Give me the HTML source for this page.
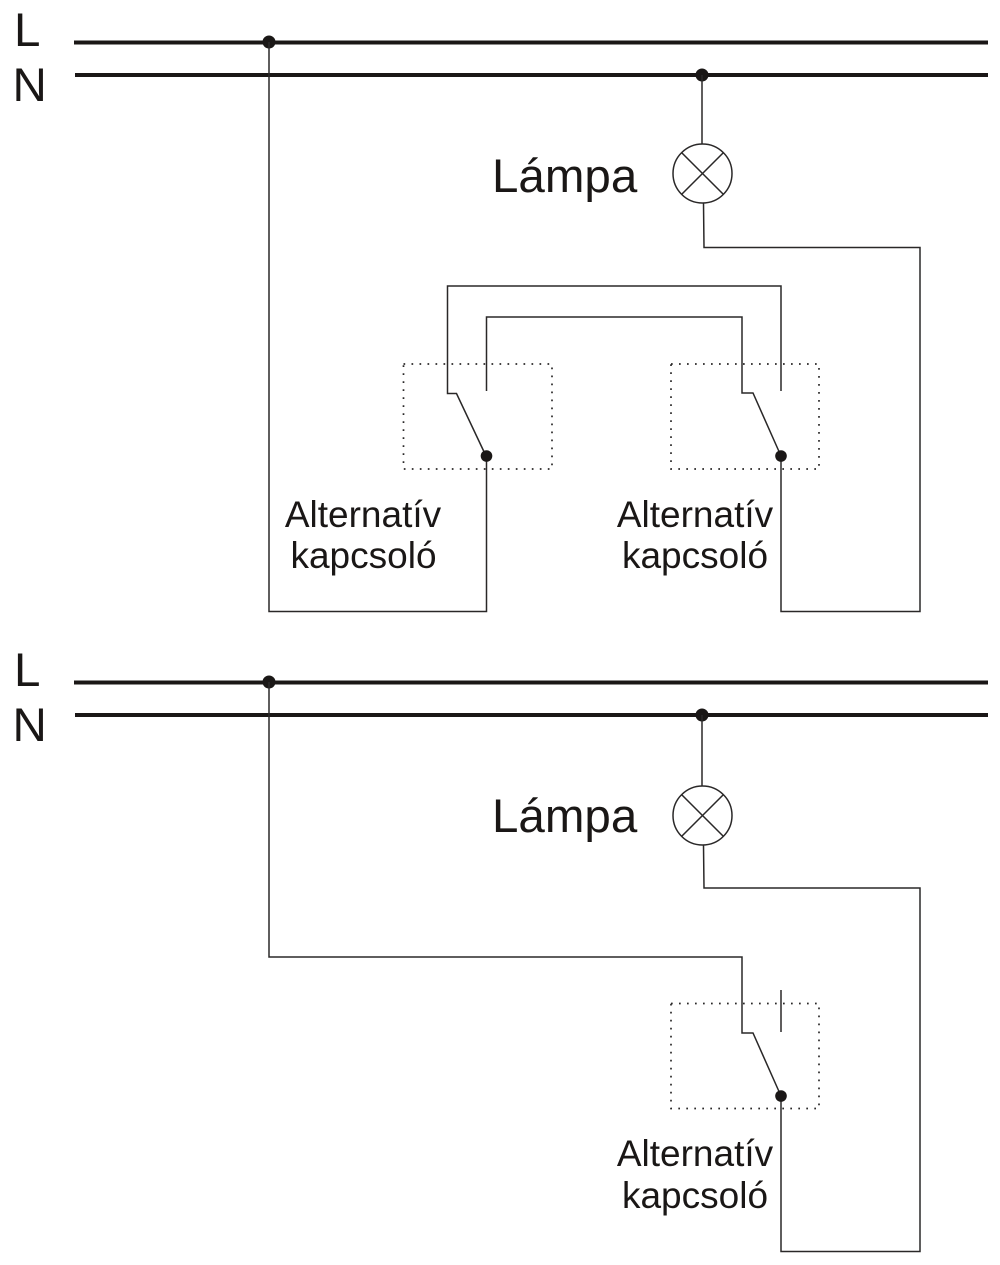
<!DOCTYPE html>
<html>
<head>
<meta charset="utf-8">
<style>
html,body{margin:0;padding:0;background:#fff;}
svg{display:block;}
text{font-family:"Liberation Sans",sans-serif;fill:#1a1716;}
.bus{stroke:#1a1716;stroke-width:4;fill:none;}
.w{stroke:#2a2828;stroke-width:1.5;fill:none;}
.d{stroke:#2a2828;stroke-width:1.7;fill:none;stroke-dasharray:1.7 6.3;}
.big{font-size:47.5px;}
.sm{font-size:37px;text-anchor:middle;}
</style>
</head>
<body>
<svg width="1000" height="1265" viewBox="0 0 1000 1265" xmlns="http://www.w3.org/2000/svg">
<rect width="1000" height="1265" fill="#fff"/>

<!-- Top diagram -->
<text class="big" x="14" y="46">L</text>
<text class="big" x="12.5" y="101">N</text>
<path class="bus" d="M74 42.5H988M75 75H988"/>
<circle cx="269" cy="42" r="6.5" fill="#1a1716"/>
<circle cx="702" cy="75" r="6.5" fill="#1a1716"/>

<path class="w" d="M269 42V611.5H486.5V456"/>
<path class="w" d="M702 75V144"/>
<circle class="w" cx="702.5" cy="173.5" r="29.5"/>
<path class="w" d="M681.6 152.6L723.4 194.4M723.4 152.6L681.6 194.4"/>
<path class="w" d="M703.5 203L704 247.5H920V611.5H781V456"/>

<path class="w" d="M486 456L456.5 393.5H447.5V286H781V391"/>
<path class="w" d="M486.5 391V317H742V393H753L781 456"/>
<rect class="d" x="403.5" y="364" width="148.5" height="105"/>
<rect class="d" x="671" y="364" width="148" height="105"/>
<circle cx="486.5" cy="456" r="5.8" fill="#1a1716"/>
<circle cx="781" cy="456" r="5.8" fill="#1a1716"/>

<text class="big" x="492" y="192">Lámpa</text>
<text class="sm" x="363" y="527">Alternatív</text>
<text class="sm" x="363.5" y="568">kapcsoló</text>
<text class="sm" x="695" y="527">Alternatív</text>
<text class="sm" x="695" y="568">kapcsoló</text>

<!-- Bottom diagram -->
<text class="big" x="14" y="686">L</text>
<text class="big" x="12.5" y="741">N</text>
<path class="bus" d="M74 682.5H988M75 715H988"/>
<circle cx="269" cy="682" r="6.5" fill="#1a1716"/>
<circle cx="702" cy="715" r="6.5" fill="#1a1716"/>

<path class="w" d="M269 682V957H742V1033H753L781 1096"/>
<path class="w" d="M781 990V1032"/>
<path class="w" d="M702 715V786"/>
<circle class="w" cx="702.5" cy="815.5" r="29.5"/>
<path class="w" d="M681.6 794.6L723.4 836.4M723.4 794.6L681.6 836.4"/>
<path class="w" d="M703.5 845L704 888H920V1251.5H781V1096"/>
<rect class="d" x="671" y="1003.5" width="148" height="105"/>
<circle cx="781" cy="1096" r="5.8" fill="#1a1716"/>

<text class="big" x="492" y="832">Lámpa</text>
<text class="sm" x="695" y="1166">Alternatív</text>
<text class="sm" x="695" y="1208">kapcsoló</text>
</svg>
</body>
</html>
